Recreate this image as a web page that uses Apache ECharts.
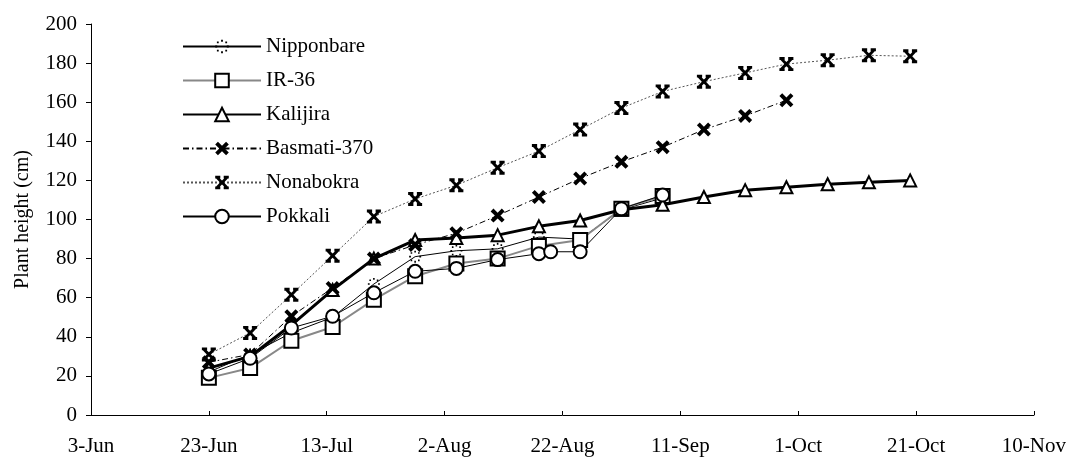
<!DOCTYPE html>
<html>
<head>
<meta charset="utf-8">
<script src="https://cdn.jsdelivr.net/npm/echarts@6/dist/echarts.min.js"></script>
<style>html,body{margin:0;padding:0;background:#fff;}#c{width:1069px;height:457px;}</style>
</head>
<body>
<div id="c"></div>
<script>
// x values = days since 3-Jun
const tickLabels = ['3-Jun','23-Jun','13-Jul','2-Aug','22-Aug','11-Sep','1-Oct','21-Oct','10-Nov'];
const daysLong = [20,27,34,41,48,55,62,69,76,83,90,97,104,111,118,125,132,139];
const daysBasmati = [20,27,34,41,48,55,62,69,76,83,90,97,104,111,118];
const daysShort = [20,27,34,41,48,55,62,69,76,83,90,97];
const daysPokkali = [20,27,34,41,48,55,62,69,76,78,83,90,97];

const nipponbare = [22,31,42,50,67,81,84,85,91,90,105,111];
const ir36 = [19,24,38,45,59,71,77.5,80,86.5,89.5,105.5,112];
const kalijira = [24,30,46,64,80,89.5,90.5,92,96.5,99.5,105,107.5,111.5,115,116.5,118,119,120];
const basmati = [27,31,50.5,65,80,87,93,102,111.5,121,129.5,137,146,153,161];
const nonabokra = [31,42,61.5,81.5,101.5,110.5,117.5,126.5,135,146,157,165.5,170.5,175,179.5,181.5,184,183.5];
const pokkali = [21,29,44.5,50.5,62.5,73.5,75,79.5,82.5,83.5,83.5,105.5,112.5];

function pairs(xs, ys){ return xs.map((x,i)=>[x, ys[i]]); }

const FONT = 'Liberation Serif';
const symDots = 'path://M5.2,0H6.8V1.8H5.2Z M5.2,10.2H6.8V12H5.2Z M0,5.2H1.8V6.8H0Z M10.2,5.2H12V6.8H10.2Z M1.5,1.5H3.1V3.1H1.5Z M8.9,1.5H10.5V3.1H8.9Z M1.5,8.9H3.1V10.5H1.5Z M8.9,8.9H10.5V10.5H8.9Z';
const symX = 'path://M0,2 L2,0 L5,3 L8,0 L10,2 L7,5 L10,8 L8,10 L5,7 L2,10 L0,8 L3,5 Z';
const symStar = 'path://M0,0H4.5V2.5H0Z M7.5,0H12V2.5H7.5Z M0,9.5H4.5V12H0Z M7.5,9.5H12V12H7.5Z M1.5,0 L6,4.2 L10.5,0 L12,1.5 L7.8,6 L12,10.5 L10.5,12 L6,7.8 L1.5,12 L0,10.5 L4.2,6 L0,1.5Z';

const chart = echarts.init(document.getElementById('c'), null, {renderer:'canvas'});
const base = {type:'line', smooth:false, animation:false, z:2};
chart.setOption({
  animation:false,
  backgroundColor:'#fff',
  grid:{left:91, right:34, top:24, bottom:39, containLabel:false},
  legend:{
    orient:'vertical', left:177, top:31, itemWidth:78, itemHeight:17, itemGap:13,
    textStyle:{fontFamily:FONT, fontSize:21, color:'#000'},
    data:['Nipponbare','IR-36','Kalijira','Basmati-370','Nonabokra','Pokkali']
  },
  xAxis:{
    type:'value', min:0, max:160, interval:20,
    axisLine:{lineStyle:{color:'#000', width:1}},
    axisTick:{inside:true, length:4, lineStyle:{color:'#000'}},
    splitLine:{show:false},
    axisLabel:{margin:21, fontFamily:FONT, fontSize:21, color:'#000', formatter:v=>tickLabels[Math.round(v/20)] || ''}
  },
  yAxis:{
    type:'value', min:0, max:200, interval:20,
    name:'Plant height (cm)', nameLocation:'middle', nameGap:58, nameRotate:90,
    nameTextStyle:{fontFamily:FONT, fontSize:20, color:'#000'},
    axisLine:{show:true, lineStyle:{color:'#000', width:1}},
    axisTick:{show:true, inside:false, length:5, lineStyle:{color:'#000'}},
    splitLine:{show:false},
    axisLabel:{margin:14, fontFamily:FONT, fontSize:21, color:'#000'}
  },
  series:[
    Object.assign({}, base, {name:'Nipponbare', data:pairs(daysShort, nipponbare),
      symbol:symDots, symbolSize:12, itemStyle:{color:'#000'},
      lineStyle:{color:'#000', width:1}}),
    Object.assign({}, base, {name:'IR-36', data:pairs(daysShort, ir36),
      symbol:'emptyRect', symbolSize:14, itemStyle:{color:'#000', borderColor:'#000', borderWidth:2.8},
      lineStyle:{color:'#888', width:2}}),
    Object.assign({}, base, {name:'Kalijira', data:pairs(daysLong, kalijira),
      symbol:'emptyTriangle', symbolSize:12, itemStyle:{color:'#000', borderColor:'#000', borderWidth:2.8},
      lineStyle:{color:'#000', width:3}}),
    Object.assign({}, base, {name:'Basmati-370', data:pairs(daysBasmati, basmati),
      symbol:symX, symbolSize:14, itemStyle:{color:'#000'},
      lineStyle:{color:'#000', width:1, type:[6,3,1.5,3]}}),
    Object.assign({}, base, {name:'Nonabokra', data:pairs(daysLong, nonabokra),
      symbol:symStar, symbolSize:14, itemStyle:{color:'#000'},
      lineStyle:{color:'#555', width:1, type:[2,2]}}),
    Object.assign({}, base, {name:'Pokkali', data:pairs(daysPokkali, pokkali),
      symbol:'emptyCircle', symbolSize:13, itemStyle:{color:'#000', borderColor:'#000', borderWidth:2.5},
      lineStyle:{color:'#000', width:1}})
  ]
});
</script>
</body>
</html>
